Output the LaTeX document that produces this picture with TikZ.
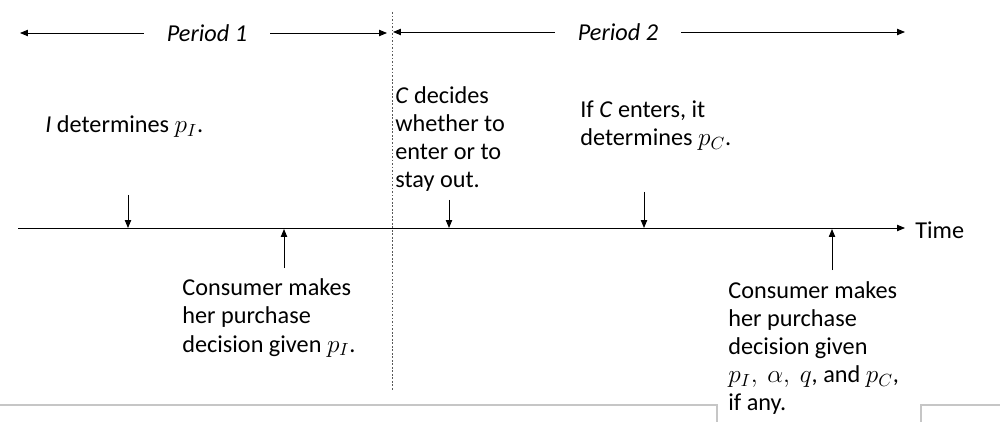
\documentclass[tikz,border=0pt]{standalone}
\usepackage{fontspec}
\setmainfont{Carlito}
\usetikzlibrary{arrows.meta}

\begin{document}
\begin{tikzpicture}[x=0.02cm, y=-0.02cm, font=\fontsize{13.8}{16}\selectfont,
   evtarrow/.style={line width=0.5pt, -{Triangle[length=4.5pt,width=3.6pt]}},
   eventtext/.style={align=left, anchor=west, inner sep=0pt},
   periodtext/.style={font=\fontsize{13.8}{16}\selectfont\itshape, inner ysep=0pt, inner xsep=13pt}]
         \useasboundingbox (0,0) rectangle (1000,422);

         % periods
         \node[periodtext] (per1) at (207,33) {Period 1};
         \node[periodtext] (per2) at (618,32) {Period 2};
         \coordinate (p1l) at (20,33);
         \coordinate (p1r) at (387,33);
         \coordinate (p2l) at (393,32);
         \coordinate (p2r) at (905,32);
         \draw[evtarrow] (per1) -- (p1l);
         \draw[evtarrow] (per1) -- (p1r);
         \draw[evtarrow] (per2) -- (p2l);
         \draw[evtarrow] (per2) -- (p2r);

         \coordinate (splittop) at (392,12);
         \coordinate (splitbot) at (392,390);
         \draw[gray!70!black, line width=0.5pt, dash pattern=on 1pt off 1pt] (splittop) -- (splitbot);

         % time line
         \coordinate (tstart) at (18,228);
         \coordinate (tend) at (905,228);
         \node[eventtext] (time) at (915,230) {Time};
         \draw[evtarrow] (tstart) -- (tend);

         \coordinate (e1) at (128,228);
         \coordinate (e2) at (284,229);
         \coordinate (e3) at (449,228);
         \coordinate (e4) at (644,228);
         \coordinate (e5) at (832,229);
         \coordinate (a1) at (128,195);
         \coordinate (a2) at (284,268);
         \coordinate (a3) at (449,200);
         \coordinate (a4) at (644,192);
         \coordinate (a5) at (832,270);
         \draw[evtarrow] (a1) -- (e1);
         \draw[evtarrow] (a2) -- (e2);
         \draw[evtarrow] (a3) -- (e3);
         \draw[evtarrow] (a4) -- (e4);
         \draw[evtarrow] (a5) -- (e5);

         \node[eventtext] (idet) at (45,127) {\textit{I} determines~$p_I$.};
         \node[eventtext] (cdec) at (395,139) {\textit{C} decides\\whether to\\enter or to\\stay out.};
         \node[eventtext] (cent) at (580,126) {If \textit{C} enters, it\\determines~$p_C$.};
         \node[eventtext] (cons1) at (182,318) {Consumer makes\\her purchase\\decision given~$p_I$.};
         \node[eventtext] (cons2) at (728,348) {Consumer makes\\her purchase\\decision given\\$p_I,\ \alpha,\ q$, and~$p_C$,\\if any.};

         % edges at the bottom
         \draw[gray!45, line width=0.6pt] (0,405) -- (717,405) -- (717,422);
         \draw[gray!45, line width=0.6pt] (1000,405) -- (921,405) -- (921,422);
      \end{tikzpicture}
\end{document}
